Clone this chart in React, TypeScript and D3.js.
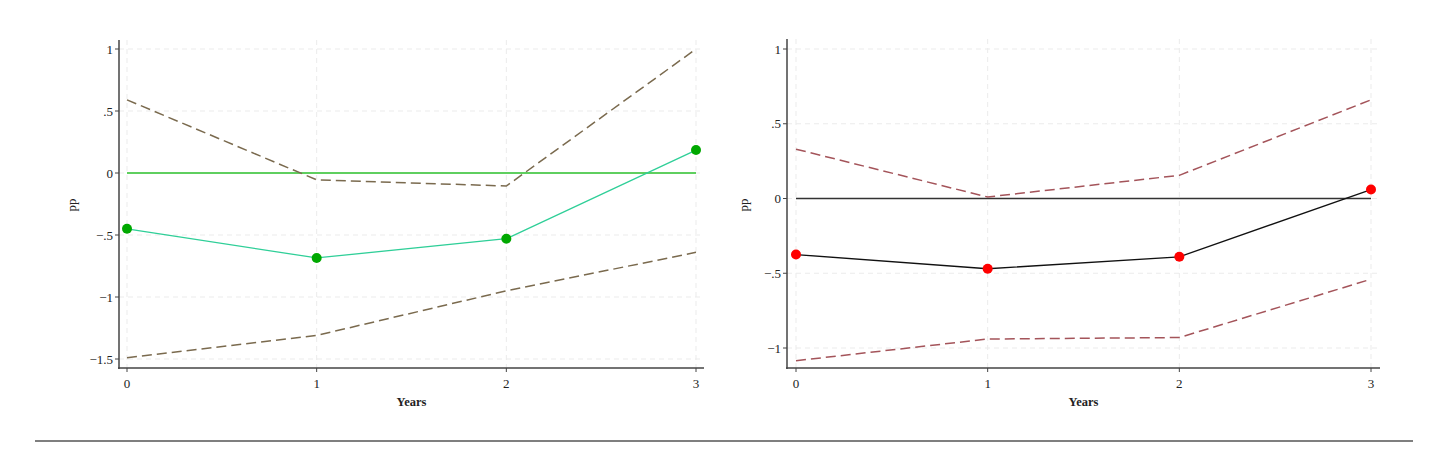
import * as d3 from 'd3';
import React from 'react';

// data
const years = [0, 1, 2, 3];
const leftEstimate = [-0.45, -0.685, -0.53, 0.185];
const leftUpper = [0.59, -0.055, -0.105, 1.0];
const leftLower = [-1.49, -1.31, -0.95, -0.64];
const rightEstimate = [-0.375, -0.47, -0.39, 0.06];
const rightUpper = [0.33, 0.01, 0.155, 0.66];
const rightLower = [-1.085, -0.94, -0.93, -0.54];
const leftYTicks = [1, 0.5, 0, -0.5, -1, -1.5];
const rightYTicks = [1, 0.5, 0, -0.5, -1];

const fmt = (v: number) => {
  if (v === 0) return '0';
  const s = Math.abs(v).toString().replace(/^0\./, '.');
  return (v < 0 ? '\u2212' : '') + s;
};

interface PanelProps {
  axisX: number;
  xRange: [number, number];
  xEnd: number;
  yDomain: [number, number];
  yRange: [number, number];
  yTop: number;
  yTicks: number[];
  estimate: number[];
  upper: number[];
  lower: number[];
  lineColor: string;
  markerColor: string;
  ciColor: string;
  zeroColor: string;
  zeroWidth: number;
  labelX: number;
}

const AXIS_Y = 368;
const FONT = '"Liberation Serif", "DejaVu Serif", serif';

function Panel(p: PanelProps) {
  const x = d3.scaleLinear().domain([0, 3]).range(p.xRange);
  const y = d3.scaleLinear().domain(p.yDomain).range(p.yRange);
  const line = (vals: number[]) =>
    d3
      .line<number>()
      .x((_, i) => x(years[i]))
      .y((d) => y(d))(vals) || '';
  const gridColor = '#ebebeb';

  return (
    <g>
      {/* grid */}
      {p.yTicks.map((t) => (
        <line
          key={'gy' + t}
          x1={p.axisX}
          x2={p.xEnd}
          y1={y(t)}
          y2={y(t)}
          stroke={gridColor}
          strokeDasharray="5,4"
        />
      ))}
      {years.map((t) => (
        <line
          key={'gx' + t}
          x1={x(t)}
          x2={x(t)}
          y1={p.yTop}
          y2={AXIS_Y}
          stroke={gridColor}
          strokeDasharray="5,4"
        />
      ))}

      {/* zero line */}
      <line
        x1={x(0)}
        x2={x(3)}
        y1={y(0)}
        y2={y(0)}
        stroke={p.zeroColor}
        strokeWidth={p.zeroWidth}
      />

      {/* confidence bands */}
      <path d={line(p.upper)} fill="none" stroke={p.ciColor} strokeWidth={1.5} strokeDasharray="10,5" />
      <path d={line(p.lower)} fill="none" stroke={p.ciColor} strokeWidth={1.5} strokeDasharray="10,5" />

      {/* estimate */}
      <path d={line(p.estimate)} fill="none" stroke={p.lineColor} strokeWidth={1.3} />
      {p.estimate.map((v, i) => (
        <circle key={'m' + i} cx={x(years[i])} cy={y(v)} r={5} fill={p.markerColor} />
      ))}

      {/* axes */}
      <line x1={p.axisX} x2={p.axisX} y1={p.yTop} y2={AXIS_Y + 1} stroke="#444" strokeWidth={1.5} />
      <line x1={p.axisX - 1} x2={p.xEnd} y1={AXIS_Y} y2={AXIS_Y} stroke="#444" strokeWidth={1.5} />
      {p.yTicks.map((t) => (
        <g key={'ty' + t}>
          <line x1={p.axisX - 4} x2={p.axisX} y1={y(t)} y2={y(t)} stroke="#444" strokeWidth={1} />
          <text
            x={p.axisX - 6}
            y={y(t)}
            dy="0.35em"
            textAnchor="end"
            fontFamily={FONT}
            fontSize={13}
            fill="#222"
          >
            {fmt(t)}
          </text>
        </g>
      ))}
      {years.map((t) => (
        <g key={'tx' + t}>
          <line x1={x(t)} x2={x(t)} y1={AXIS_Y} y2={AXIS_Y + 4} stroke="#444" strokeWidth={1} />
          <text
            x={x(t)}
            y={AXIS_Y + 20}
            textAnchor="middle"
            fontFamily={FONT}
            fontSize={13}
            fill="#222"
          >
            {t}
          </text>
        </g>
      ))}
      <text
        x={(p.xRange[0] + p.xRange[1]) / 2}
        y={AXIS_Y + 38}
        textAnchor="middle"
        fontFamily={FONT}
        fontSize={12.5}
        fontWeight="bold"
        fill="#222"
      >
        Years
      </text>
      <text
        transform={`translate(${p.labelX}, 205) rotate(-90)`}
        textAnchor="middle"
        fontFamily={FONT}
        fontSize={13}
        fill="#222"
      >
        pp
      </text>
    </g>
  );
}

export default function App() {
  return (
    <svg
      width={1446}
      height={457}
      style={{ position: 'absolute', left: 0, top: 0, background: '#fff' }}
    >
      <Panel
        axisX={119}
        xRange={[127, 696]}
        xEnd={704}
        yDomain={[-1.5, 1]}
        yRange={[359, 49]}
        yTop={40}
        yTicks={leftYTicks}
        estimate={leftEstimate}
        upper={leftUpper}
        lower={leftLower}
        lineColor="#2fcf98"
        markerColor="#00a800"
        ciColor="#7a6a4e"
        zeroColor="#5fcf5f"
        zeroWidth={2}
        labelX={76}
      />
      <Panel
        axisX={787}
        xRange={[796, 1371]}
        xEnd={1380}
        yDomain={[-1, 1]}
        yRange={[348, 49]}
        yTop={39}
        yTicks={rightYTicks}
        estimate={rightEstimate}
        upper={rightUpper}
        lower={rightLower}
        lineColor="#111"
        markerColor="#ff0000"
        ciColor="#a4545a"
        zeroColor="#333"
        zeroWidth={1.5}
        labelX={748}
      />
      <line x1={35} x2={1413} y1={441} y2={441} stroke="#555" strokeWidth={1.5} />
    </svg>
  );
}
